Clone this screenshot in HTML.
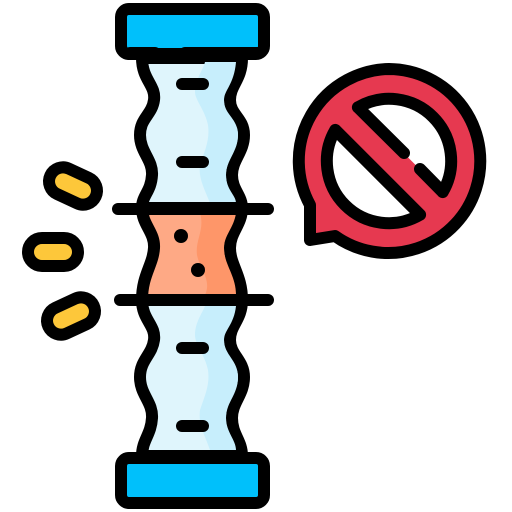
<!DOCTYPE html>
<html><head><meta charset="utf-8"><style>html,body{margin:0;padding:0;background:#fff}svg{display:block}</style></head>
<body>
<svg width="512" height="512" viewBox="0 0 512 512" stroke="#000" stroke-width="12" stroke-linecap="round" stroke-linejoin="round">
  <!-- upper tube -->
  <path fill="#dff5fc" d="M142 58 C142 80,156 85,154 100 C152 115,140 118,140 135 C140 152,153 160,152 175 C151 192,142 195,142 208 L242 208 C242 195,232 190,232 175 C232 160,244 152,244 135 C244 118,230 115,230 100 C230 85,242 80,242 58 Z"/>
  <path fill="#c7eefc" stroke="none" d="M205 62 L236 62 C234 85,224 90,224 100 C224 115,238 118,238 135 C238 152,226 160,226 175 C226 190,236 195,236 203 L210 203 C205 190,198 178,200 165 C205 150,210 140,208 125 C205 110,195 100,195 92 C195 80,203 70,205 62Z"/>
  <!-- middle blockage -->
  <path fill="#fea985" d="M142 208 C142 225,155 232,154 248 C153 265,142 275,142 300 L242 300 C242 275,230 265,230 248 C230 232,242 225,242 208 Z"/>
  <path fill="#fe9669" stroke="none" d="M200 213 L236 213 C234 228,224 235,224 248 C224 265,236 275,236 295 L205 295 C212 280,200 270,197 255 C195 240,205 230,200 213Z"/>
  <!-- lower tube -->
  <path fill="#dff5fc" d="M142 300 C142 320,156 325,154 340 C152 355,140 360,140 377 C140 395,153 402,152 418 C151 435,142 440,142 456 L242 456 C242 440,232 435,232 418 C232 402,244 395,244 377 C244 360,230 355,230 340 C230 325,242 320,242 300 Z"/>
  <path fill="#c7eefc" stroke="none" d="M205 306 L236 306 C234 325,224 330,224 340 C224 355,238 360,238 377 C238 395,226 402,226 418 C226 432,236 440,236 450 L210 450 C205 435,198 425,200 410 C205 395,210 385,208 370 C205 355,195 345,195 335 C195 322,203 312,205 306Z"/>
  <!-- caps -->
  <rect x="121" y="9" width="143" height="45" rx="8" fill="#00c0fb"/>
  <rect x="121" y="458" width="143" height="45" rx="8" fill="#00c0fb"/>
  <path d="M130 53 L155 53 M185 53 L258 53"/>
  <!-- separators -->
  <line x1="118" y1="209" x2="268" y2="209"/>
  <line x1="120" y1="300" x2="192" y2="300"/>
  <line x1="222" y1="300" x2="268" y2="300"/>
  <!-- dashes -->
  <g>
    <line x1="182" y1="84" x2="203" y2="84"/><line x1="182" y1="162" x2="203" y2="162"/>
    <line x1="182" y1="348" x2="203" y2="348"/><line x1="182" y1="426" x2="203" y2="426"/>
  </g>
  <g fill="#000" stroke="none">
    <circle cx="181" cy="236" r="7"/><circle cx="198" cy="270" r="7"/>
  </g>
  <!-- pills -->
  <g fill="#fdc73a">
    <rect x="48" y="172" width="50" height="28" rx="14" transform="rotate(25 73 186)"/>
    <rect x="28" y="238" width="50" height="28" rx="14"/>
    <rect x="46" y="302" width="50" height="28" rx="14" transform="rotate(-25 71 316)"/>
  </g>
  <!-- no sign -->
  <path fill="#e63950" d="M389 69 A92 92 0 1 1 335 236 L310 240 L310 205 A92 92 0 0 1 389 69 Z"/>
  <path fill="#fff" stroke="none" d="M357.9 107.3 A62 62 0 0 1 442.7 192.1 Z"/>
  <path fill="none" d="M420 169 L442.7 192.1 M357.9 107.3 A62 62 0 0 1 442.7 192.1 M357.9 107.3 L404 153"/>
  <path fill="#fff" d="M420.1 214.7 A62 62 0 0 1 335.3 129.9 Z"/>
</svg>
</body></html>
